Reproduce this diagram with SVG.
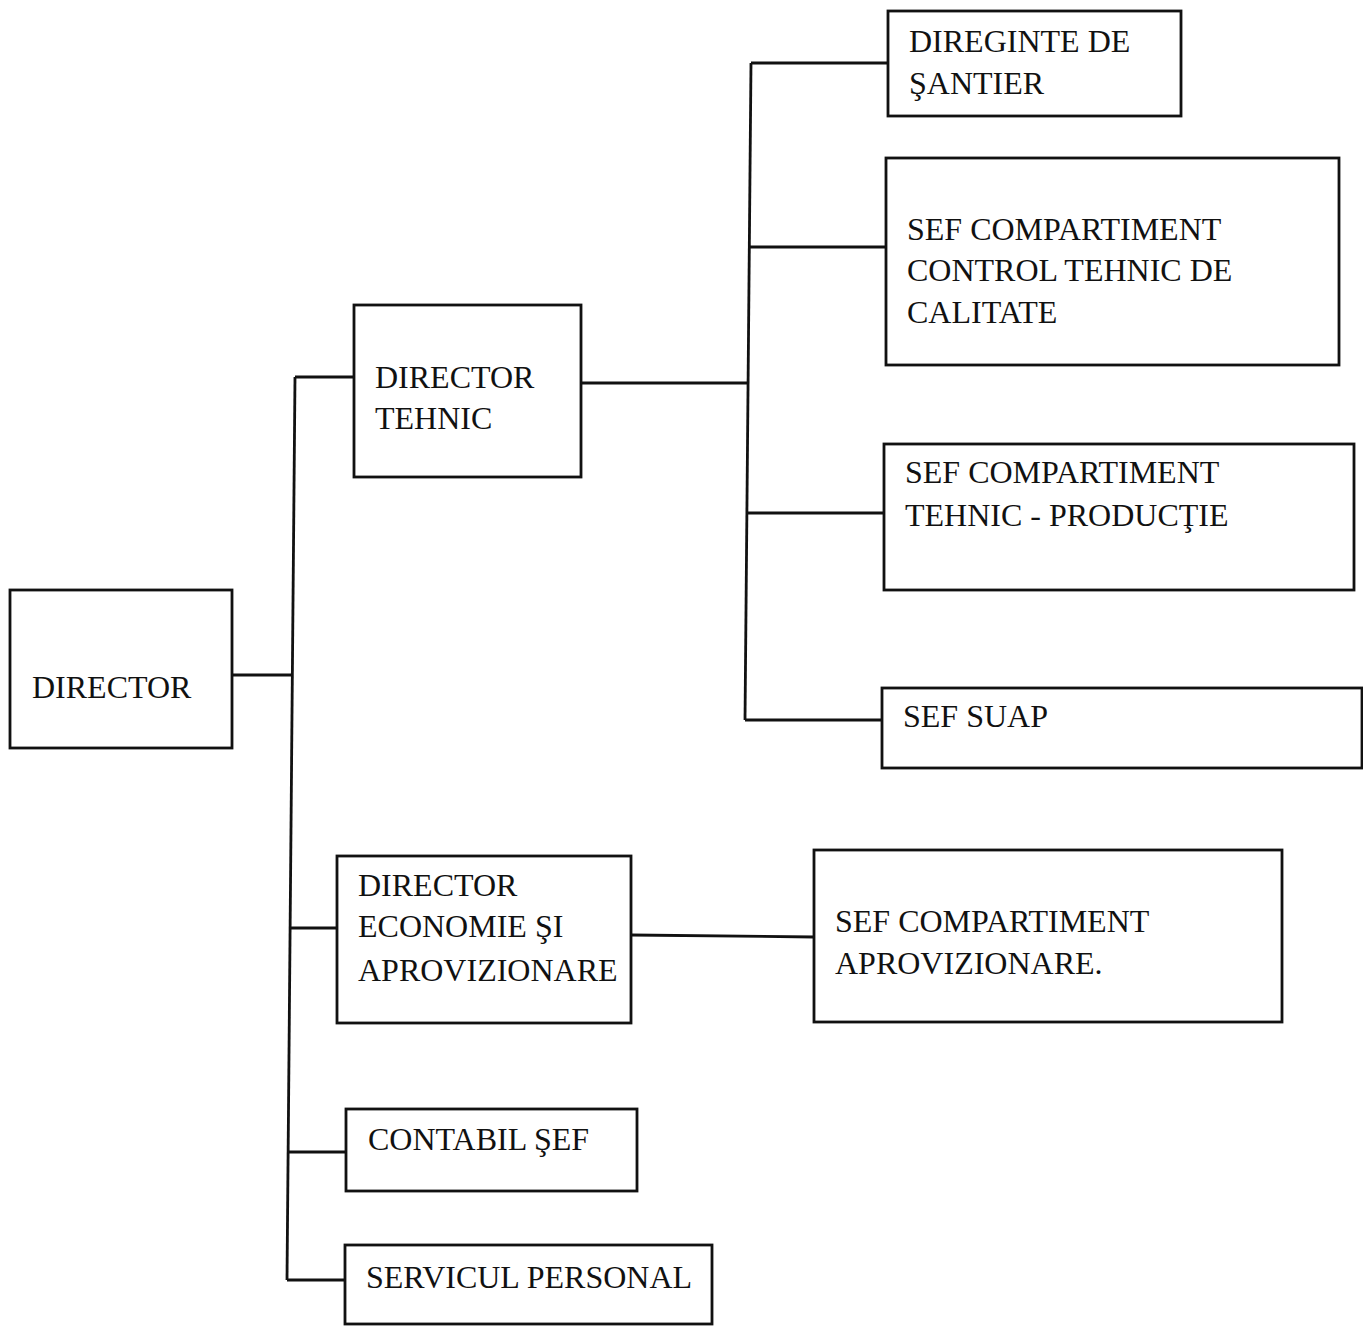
<svg xmlns="http://www.w3.org/2000/svg" width="1363" height="1326" viewBox="0 0 1363 1326">
<style>
.box{fill:#fff;stroke:#111;stroke-width:2.8}
.lbl{font-family:"Liberation Serif","Times New Roman",serif;font-size:32px;fill:#111}
.con{stroke:#111;stroke-width:2.8;fill:none}
</style>
<rect width="1363" height="1326" fill="#fff"/>
<g id="connectors">
<line class="con" x1="295" y1="377" x2="287" y2="1280"/>
<line class="con" x1="232" y1="675" x2="292" y2="675"/>
<line class="con" x1="295" y1="377" x2="354" y2="377"/>
<line class="con" x1="290" y1="928" x2="337" y2="928"/>
<line class="con" x1="288" y1="1152" x2="346" y2="1152"/>
<line class="con" x1="287" y1="1280" x2="345" y2="1280"/>
<line class="con" x1="581" y1="383" x2="748" y2="383"/>
<line class="con" x1="751" y1="63" x2="745" y2="720"/>
<line class="con" x1="751" y1="63" x2="888" y2="63"/>
<line class="con" x1="750" y1="247" x2="886" y2="247"/>
<line class="con" x1="748" y1="513" x2="884" y2="513"/>
<line class="con" x1="745" y1="720" x2="882" y2="720"/>
<line class="con" x1="631" y1="935" x2="814" y2="937"/>
</g>
<g id="director">
<rect class="box" x="10" y="590" width="222" height="158"/>
<text class="lbl" x="32" y="698">DIRECTOR</text>
</g>
<g id="director-tehnic">
<rect class="box" x="354" y="305" width="227" height="172"/>
<text class="lbl" x="375" y="388">DIRECTOR</text>
<text class="lbl" x="375" y="429">TEHNIC</text>
</g>
<g id="diriginte">
<rect class="box" x="888" y="11" width="293" height="105"/>
<text class="lbl" x="909" y="52">DIREGINTE DE</text>
<text class="lbl" x="909" y="94">ŞANTIER</text>
</g>
<g id="control-calitate">
<rect class="box" x="886" y="158" width="453" height="207"/>
<text class="lbl" x="907" y="240">SEF COMPARTIMENT</text>
<text class="lbl" x="907" y="281">CONTROL TEHNIC DE</text>
<text class="lbl" x="907" y="323">CALITATE</text>
</g>
<g id="tehnic-productie">
<rect class="box" x="884" y="444" width="470" height="146"/>
<text class="lbl" x="905" y="483">SEF COMPARTIMENT</text>
<text class="lbl" x="905" y="526">TEHNIC - PRODUCŢIE</text>
</g>
<g id="suap">
<rect class="box" x="882" y="688" width="480" height="80"/>
<text class="lbl" x="903" y="727">SEF SUAP</text>
</g>
<g id="director-economie">
<rect class="box" x="337" y="856" width="294" height="167"/>
<text class="lbl" x="358" y="896">DIRECTOR</text>
<text class="lbl" x="358" y="937">ECONOMIE ŞI</text>
<text class="lbl" x="358" y="981">APROVIZIONARE</text>
</g>
<g id="aprovizionare">
<rect class="box" x="814" y="850" width="468" height="172"/>
<text class="lbl" x="835" y="932">SEF COMPARTIMENT</text>
<text class="lbl" x="835" y="974">APROVIZIONARE.</text>
</g>
<g id="contabil">
<rect class="box" x="346" y="1109" width="291" height="82"/>
<text class="lbl" x="368" y="1150">CONTABIL ŞEF</text>
</g>
<g id="servicul-personal">
<rect class="box" x="345" y="1245" width="367" height="79"/>
<text class="lbl" x="366" y="1288">SERVICUL PERSONAL</text>
</g>
</svg>
